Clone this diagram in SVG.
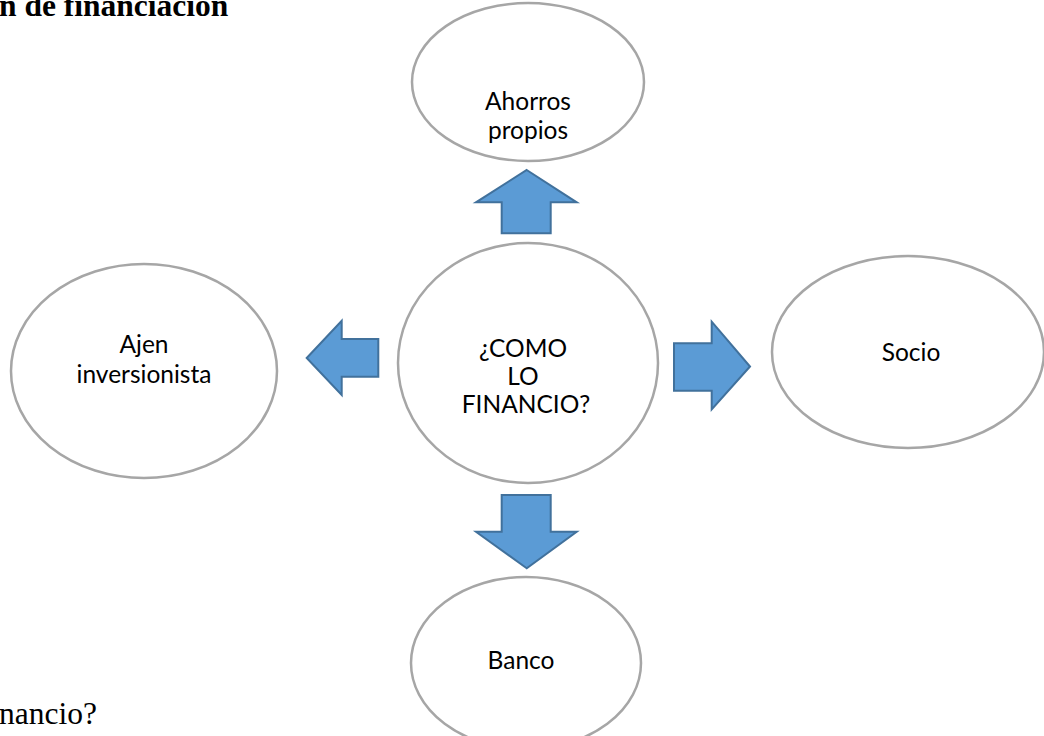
<svg xmlns="http://www.w3.org/2000/svg" width="1044" height="736" viewBox="0 0 1044 736">
<style>
.node ellipse{fill:#FFFFFF;stroke:#A6A6A6;stroke-width:2.5}
.lbl{font-family:Lato,"Open Sans",sans-serif;font-size:24.5px;fill:#000000;text-anchor:middle}
.arrow{fill:#5B9BD5;stroke:#41719C;stroke-width:2;stroke-linejoin:miter}
.serif{font-family:"Liberation Serif","Times New Roman",serif;fill:#000000}
</style>
<rect width="1044" height="736" fill="#FFFFFF"/>
<text class="serif" x="-1" y="16" font-size="31.5" font-weight="bold">n de financiación</text>
<text class="serif" x="-1" y="724" font-size="31.5">nancio?</text>
<g id="connectors">
<path class="arrow" d="M526.7,170 L576.7,202.3 L550.7,202.3 L550.7,233.3 L501.7,233.3 L501.7,202.3 L476,202.3 Z"/>
<path class="arrow" d="M306.7,358 L341.7,320.7 L341.7,339 L378.3,339 L378.3,376.7 L341.7,376.7 L341.7,395 Z"/>
<path class="arrow" d="M750,366.5 L711.7,409.3 L711.7,390.7 L674,390.7 L674,343.3 L711.7,343.3 L711.7,321.7 Z"/>
<path class="arrow" d="M526.7,568.3 L476,531.7 L501.7,531.7 L501.7,495 L550.7,495 L550.7,531.7 L576.7,531.7 Z"/>
</g>
<g id="node-ahorros" class="node">
<ellipse cx="528" cy="82" rx="116" ry="79"/>
<text class="lbl" x="528" y="110">Ahorros</text>
<text class="lbl" x="528" y="139">propios</text>
</g>
<g id="node-center" class="node">
<ellipse cx="528" cy="363" rx="130" ry="120"/>
<text class="lbl" x="523" y="357">¿COMO</text>
<text class="lbl" x="523" y="385">LO</text>
<text class="lbl" x="526" y="413">FINANCIO?</text>
</g>
<g id="node-ajen" class="node">
<ellipse cx="144" cy="371" rx="133" ry="107"/>
<text class="lbl" x="144" y="353">Ajen</text>
<text class="lbl" x="144" y="383">inversionista</text>
</g>
<g id="node-socio" class="node">
<ellipse cx="908" cy="352" rx="136" ry="96"/>
<text class="lbl" x="911" y="361">Socio</text>
</g>
<g id="node-banco" class="node">
<ellipse cx="526" cy="663" rx="115" ry="86"/>
<text class="lbl" x="521" y="669">Banco</text>
</g>
</svg>
